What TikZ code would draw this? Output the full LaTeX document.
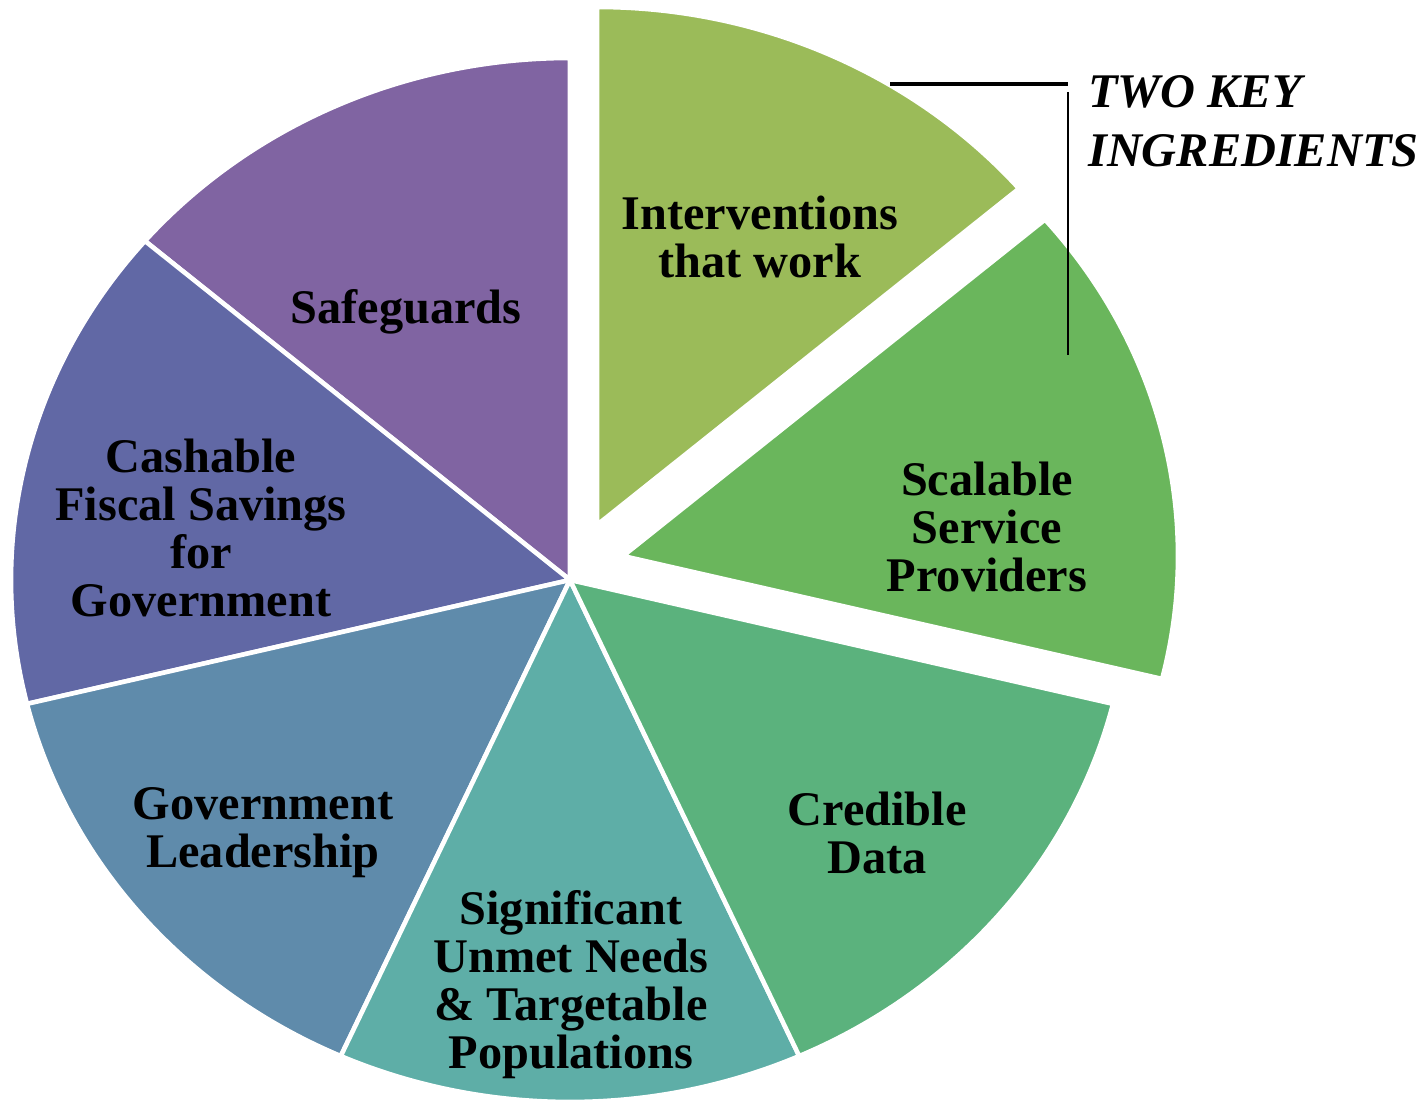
\documentclass[tikz,border=0pt]{standalone}
\usepackage{fontspec}
\setmainfont{Liberation Serif}
\usepackage{xcolor}
\usepackage{tikz}

\definecolor{colSafe}{HTML}{8064A2}
\definecolor{colCash}{HTML}{6168A5}
\definecolor{colLead}{HTML}{5F8BAB}
\definecolor{colNeed}{HTML}{5EAEA7}
\definecolor{colData}{HTML}{5BB27D}
\definecolor{colScale}{HTML}{6AB65C}
\definecolor{colWork}{HTML}{9BBB59}

\begin{document}
\begin{tikzpicture}[x=0.02cm, y=0.02cm,
    pieslice/.style={draw=white, line width=2.6pt, line join=round},
    slicetext/.style={font=\fontsize{27.5}{27.3}\selectfont\bfseries, align=center, text=black},
    keytext/.style={font=\fontsize{27.5}{33.6}\selectfont\bfseries\itshape, align=left, anchor=west}]
					\useasboundingbox (0,0) rectangle (1424,1106);
					\coordinate (centre) at (570,526);
					\coordinate (workTip) at (597,581);
					\coordinate (scaleTip) at (623,550);

					% five slices round the centre
					\filldraw[pieslice, fill=colSafe] (centre) -- ++(90:559 and 522) arc[start angle=90, end angle=139.5, x radius=559, y radius=522] -- cycle;
					\filldraw[pieslice, fill=colCash] (centre) -- ++(139.5:559 and 522) arc[start angle=139.5, end angle=193.73, x radius=559, y radius=522] -- cycle;
					\filldraw[pieslice, fill=colLead] (centre) -- ++(193.73:559 and 522) arc[start angle=193.73, end angle=245.79, x radius=559, y radius=522] -- cycle;
					\filldraw[pieslice, fill=colNeed] (centre) -- ++(245.79:559 and 522) arc[start angle=245.79, end angle=294.21, x radius=559, y radius=522] -- cycle;
					\filldraw[pieslice, fill=colData] (centre) -- ++(294.21:559 and 522) arc[start angle=294.21, end angle=346.27, x radius=559, y radius=522] -- cycle;

					% the two pulled-out slices
					\filldraw[pieslice, fill=colScale] (scaleTip) -- ++(-13.73:555 and 518) arc[start angle=-13.73, end angle=40.5, x radius=555, y radius=518] -- cycle;
					\filldraw[pieslice, fill=colWork] (workTip) -- ++(40.5:555 and 518) arc[start angle=40.5, end angle=90, x radius=555, y radius=518] -- cycle;

					\node[slicetext] (safe) at (406,794) {Safeguards};
					\node[slicetext] (cash) at (201,578) {Cashable\\Fiscal Savings\\for\\Government};
					\node[slicetext] (lead) at (263,273) {Government\\Leadership};
					\node[slicetext] (need) at (571,121) {Significant\\Unmet Needs\\\& Targetable\\Populations};
					\node[slicetext] (data) at (877,273) {Credible\\Data};
					\node[slicetext] (scale) at (987,579) {Scalable\\Service\\Providers};
					\node[slicetext] (work) at (760,869) {Interventions\\that work};

					% bracket for the two key ingredients
					\node[keytext] (keys) at (1082,985) {TWO KEY\\INGREDIENTS};
					\coordinate (bracketL) at (890,1022);
					\coordinate (bracketR) at (1068,1022);
					\coordinate (bracketT) at (1068,1014);
					\coordinate (bracketB) at (1068,751);
					\draw[line width=1.8pt] (bracketL) -- (bracketR);
					\draw[line width=1.3pt] (bracketT) -- (bracketB);
				\end{tikzpicture}
\end{document}
